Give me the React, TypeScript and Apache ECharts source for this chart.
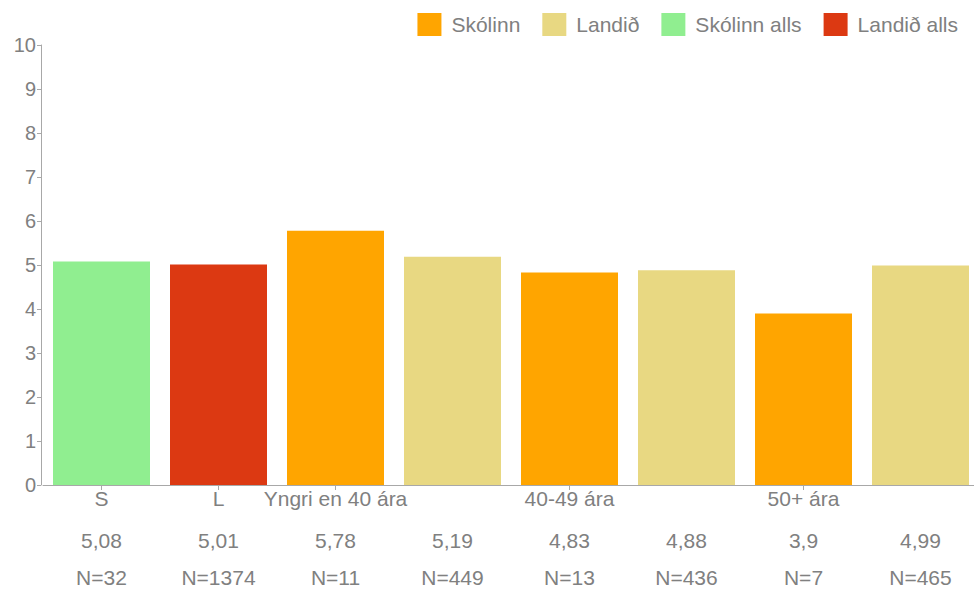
import React, { useEffect, useRef } from "react";
import * as echarts from "echarts";

const categories = ["S", "L", "Yngri en 40 ára", "", "40-49 ára", "", "50+ ára", ""];
const valueLabels = ["5,08", "5,01", "5,78", "5,19", "4,83", "4,88", "3,9", "4,99"];
const nLabels = ["N=32", "N=1374", "N=11", "N=449", "N=13", "N=436", "N=7", "N=465"];
const skolinn = [null, null, 5.78, null, 4.83, null, 3.9, null];
const landid = [null, null, null, 5.19, null, 4.88, null, 4.99];
const skolinnAlls = [5.08, null, null, null, null, null, null, null];
const landidAlls = [null, 5.01, null, null, null, null, null, null];
const yTicks = [0, 10, 1];

const FONT = "'Liberation Sans', Arial, sans-serif";
const TXT = "#808080";
const AX = "#a8a8a8";
const FS = 21;

export default function App() {
  const ref = useRef<HTMLDivElement>(null);
  useEffect(() => {
    document.body.style.margin = "0";
    const chart = echarts.init(ref.current!, null, { renderer: "svg" });
    const hiddenAxis = (labels: string[], margin: number) => ({
      type: "category",
      data: labels,
      position: "bottom",
      axisLine: { show: false },
      axisTick: { show: false },
      axisLabel: { interval: 0, margin, color: TXT, fontSize: FS, fontFamily: FONT, hideOverlap: false },
    });
    const bar = (name: string, data: (number | null)[], color: string) => ({
      name,
      type: "bar",
      stack: "all",
      data,
      barWidth: 97,
      itemStyle: { color },
      xAxisIndex: 0,
    });
    chart.setOption({
      animation: false,
      textStyle: { fontFamily: FONT },
      grid: { left: 43, right: -5, top: 45, bottom: 104, containLabel: false, outerBoundsMode: "none" },
      legend: {
        right: 11,
        top: 8,
        itemWidth: 24,
        itemHeight: 23,
        itemGap: 22,
        icon: "rect",
        textStyle: { color: TXT, fontSize: FS, fontFamily: FONT, padding: [0, 0, 0, 5] },
        data: ["Skólinn", "Landið", "Skólinn alls", "Landið alls"],
      },
      xAxis: [
        {
          type: "category",
          data: categories,
          position: "bottom",
          axisLine: { show: true, lineStyle: { color: AX, width: 1 } },
          axisTick: {
            show: true,
            alignWithLabel: true,
            length: 5,
            interval: (i: number) => categories[i] !== "",
            lineStyle: { color: AX },
          },
          axisLabel: { interval: 0, margin: 3, color: TXT, fontSize: FS, fontFamily: FONT, hideOverlap: false },
        },
        hiddenAxis(valueLabels, 45),
        hiddenAxis(nLabels, 82),
      ],
      yAxis: {
        type: "value",
        min: yTicks[0],
        max: yTicks[1],
        interval: yTicks[2],
        offset: 2,
        axisLine: { show: true, lineStyle: { color: AX, width: 1 } },
        axisTick: { show: true, length: 4, lineStyle: { color: AX } },
        splitLine: { show: false },
        axisLabel: { color: TXT, fontSize: 20, fontFamily: FONT, margin: 5 },
      },
      series: [
        bar("Skólinn", skolinn, "#ffa500"),
        bar("Landið", landid, "#e8d882"),
        bar("Skólinn alls", skolinnAlls, "#90ee90"),
        bar("Landið alls", landidAlls, "#dc3912"),
      ],
    });
    return () => chart.dispose();
  }, []);
  return <div ref={ref} style={{ width: 974, height: 589 }} />;
}
